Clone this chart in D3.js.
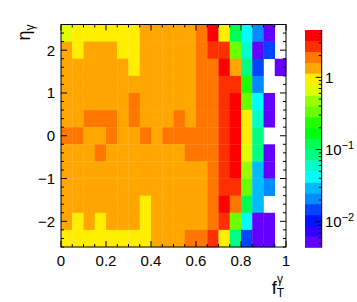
<!DOCTYPE html>
<html>
<head>
<meta charset="utf-8">
<script src="https://cdn.jsdelivr.net/npm/d3@7"></script>
<style>
  body { margin: 0; background: #fff; }
  svg { display: block; font-family: "Liberation Sans", Arial, sans-serif; }
</style>
</head>
<body>
<div id="chart"></div>
<script>
// bin edges
var ftEdges = [0, 0.05, 0.1, 0.15, 0.2, 0.25, 0.3, 0.35, 0.4, 0.45, 0.5, 0.55, 0.6, 0.65, 0.7, 0.75, 0.8, 0.85, 0.9, 0.95, 1];
var etaEdges = [2.6, 2.2, 1.8, 1.4, 1.0, 0.6, 0.2, -0.2, -0.6, -1.0, -1.4, -1.8, -2.2, -2.6]; // top -> bottom

// bin contents, one row per eta bin (top row first), null = empty bin
var counts = [
  [0.67, 0.95, 0.95, 0.95, 0.95, 0.95, 0.95, 1.34, 1.34, 1.34, 1.34, 1.34, 1.9, 3.8, 0.95, 0.12, 0.042, 0.021, 0.0052, null],
  [1.34, 0.95, 1.34, 1.34, 1.34, 0.95, 0.95, 1.34, 1.34, 1.34, 1.34, 1.34, 1.9, 2.7, 2.7, 0.34, 0.059, 0.0052, 0.0148, null],
  [1.34, 1.34, 1.34, 1.34, 1.34, 1.34, 0.95, 1.34, 1.34, 1.34, 1.34, 1.34, 1.9, 1.9, 3.8, 1.34, 0.084, 0.0148, null, 0.0052],
  [1.34, 1.34, 1.34, 1.34, 1.34, 1.34, 1.34, 1.34, 1.34, 1.34, 1.34, 1.34, 1.9, 1.9, 2.7, 2.7, 0.24, 0.021, null, null],
  [1.34, 1.34, 1.34, 1.34, 1.34, 1.34, 1.9, 1.34, 1.34, 1.34, 1.34, 1.34, 1.9, 1.9, 2.7, 3.8, 0.34, 0.042, 0.0052, null],
  [1.34, 1.34, 1.9, 1.9, 1.9, 1.34, 1.9, 1.34, 1.34, 1.34, 1.9, 1.34, 1.9, 1.9, 2.7, 3.8, 0.95, 0.059, 0.0052, null],
  [1.9, 1.9, 1.34, 1.34, 1.9, 1.34, 1.34, 1.9, 1.34, 1.9, 1.9, 1.9, 1.9, 1.9, 2.7, 3.8, 0.95, 0.084, null, null],
  [1.34, 1.34, 1.34, 1.9, 1.34, 1.34, 1.34, 1.34, 1.34, 1.34, 1.34, 1.9, 1.9, 1.9, 2.7, 3.8, 0.67, 0.084, 0.0052, null],
  [1.34, 1.34, 1.34, 1.34, 1.34, 1.34, 1.34, 1.34, 1.34, 1.34, 1.34, 1.34, 1.34, 1.9, 2.7, 3.8, 0.47, 0.030, 0.0052, null],
  [1.34, 1.34, 1.34, 1.34, 1.34, 1.34, 1.34, 1.34, 1.34, 1.34, 1.34, 1.34, 1.34, 1.9, 2.7, 2.7, 0.34, 0.030, 0.021, null],
  [1.34, 1.34, 1.34, 1.34, 1.34, 1.34, 1.34, 0.95, 1.34, 1.34, 1.34, 1.34, 1.34, 1.9, 3.8, 1.9, 0.12, 0.030, null, null],
  [1.34, 0.95, 1.34, 0.95, 1.34, 1.34, 1.34, 0.95, 1.34, 1.34, 1.34, 1.34, 1.34, 1.9, 2.7, 0.34, 0.042, 0.0052, 0.0052, null],
  [0.95, 0.95, 0.95, 0.95, 0.95, 0.95, 0.95, 0.95, 1.34, 1.34, 1.34, 1.9, 1.9, 2.7, 0.95, 0.084, 0.0148, 0.0052, 0.0052, null]
];

var xTicks = [0, 0.2, 0.4, 0.6, 0.8, 1];
var yTicks = [-2, -1, 0, 1, 2];
var zRange = [0.0044, 4.52];
var zDecades = [0.01, 0.1, 1];

var W = 357, H = 302;
var fr = { l: 61, r: 286, t: 24.5, b: 247 };
var pal = { l: 305, r: 321.7, t: 30, b: 247.5 };
var nLevels = 20;

// ROOT "pretty" palette: 50 hues violet -> red, 20 contour levels
var palette = d3.range(nLevels).map(function (k) {
    var c = Math.floor((k + 0.99) * 50 / nLevels);
    var hue = 280 - (c + 1) * (280 / 50);
    return d3.hsl(hue, 1, 0.5).formatHex();
});

var svg = d3.select("#chart").append("svg")
    .attr("width", W)
    .attr("height", H);

var x = d3.scaleLinear().domain([0, 1]).range([fr.l, fr.r]);
var y = d3.scaleLinear().domain([-2.6, 2.6]).range([fr.b, fr.t]);
var zPos = d3.scaleLog().domain(zRange).range([0, 1]);

function zColor(v) {
    var k = Math.floor(zPos(v) * nLevels);
    k = Math.max(0, Math.min(nLevels - 1, k));
    return palette[k];
}

// cells
var cells = [];
counts.forEach(function (row, j) {
    row.forEach(function (v, i) {
        if (v !== null) cells.push({ i: i, j: j, v: v });
    });
});

svg.append("g").selectAll("rect")
    .data(cells)
    .enter().append("rect")
    .attr("x", function (d) { return x(ftEdges[d.i]); })
    .attr("y", function (d) { return y(etaEdges[d.j]); })
    .attr("width", function (d) { return x(ftEdges[d.i + 1]) - x(ftEdges[d.i]) + 0.3; })
    .attr("height", function (d) { return y(etaEdges[d.j + 1]) - y(etaEdges[d.j]) + 0.3; })
    .attr("fill", function (d) { return zColor(d.v); });

// frame
svg.append("rect")
    .attr("x", fr.l).attr("y", fr.t)
    .attr("width", fr.r - fr.l).attr("height", fr.b - fr.t)
    .attr("fill", "none").attr("stroke", "#000").attr("stroke-width", 1);

// ticks
var ax = svg.append("g").attr("stroke", "#000").attr("stroke-width", 1);
var xMinor = ftEdges;
var yMinor = d3.range(-2.6, 2.61, 0.2);
function tick(x1, y1, x2, y2) {
    ax.append("line").attr("x1", x1).attr("y1", y1).attr("x2", x2).attr("y2", y2);
}
xMinor.forEach(function (v) {
    var len = xTicks.some(function (t) { return Math.abs(t - v) < 1e-6; }) ? 6 : 3;
    tick(x(v), fr.b, x(v), fr.b - len);
    tick(x(v), fr.t, x(v), fr.t + len);
});
yMinor.forEach(function (v) {
    var len = yTicks.some(function (t) { return Math.abs(t - v) < 1e-6; }) ? 6 : 3;
    tick(fr.l, y(v), fr.l + len, y(v));
    tick(fr.r, y(v), fr.r - len, y(v));
});

// tick labels
var fmt = d3.format("");
svg.append("g").selectAll("text")
    .data(xTicks).enter().append("text")
    .attr("x", function (d) { return x(d); })
    .attr("y", 266)
    .attr("text-anchor", "middle")
    .attr("font-size", 15)
    .text(function (d) { return fmt(d); });

svg.append("g").selectAll("text")
    .data(yTicks).enter().append("text")
    .attr("x", 55)
    .attr("y", function (d) { return y(d) + 5.5; })
    .attr("text-anchor", "end")
    .attr("font-size", 15)
    .text(function (d) { return fmt(d); });

// axis titles
var yt = svg.append("text")
    .attr("transform", "translate(30," + fr.t + ") rotate(-90)")
    .attr("text-anchor", "end")
    .attr("font-size", 18);
yt.append("tspan").text("η");
yt.append("tspan").attr("font-size", 12).attr("dy", 4).text("γ");

var xt = svg.append("text")
    .attr("x", 284)
    .attr("y", 294)
    .attr("text-anchor", "end")
    .attr("font-size", 18);
xt.append("tspan").text("f");
xt.append("tspan").attr("font-size", 12).attr("dy", 3).text("T");
xt.append("tspan").attr("font-size", 12).attr("dx", -7).attr("dy", -14).text("γ");

// colour palette
var zy = d3.scaleLog().domain(zRange).range([pal.b, pal.t]);
var lmin = Math.log10(zRange[0]), lmax = Math.log10(zRange[1]);
var levels = d3.range(nLevels + 1).map(function (k) {
    return Math.pow(10, lmin + k * (lmax - lmin) / nLevels);
});
svg.append("g").selectAll("rect")
    .data(d3.range(nLevels)).enter().append("rect")
    .attr("x", pal.l)
    .attr("width", pal.r - pal.l)
    .attr("y", function (k) { return zy(levels[k + 1]); })
    .attr("height", function (k) { return zy(levels[k]) - zy(levels[k + 1]) + 0.3; })
    .attr("fill", function (k) { return palette[k]; });

var zax = svg.append("g").attr("stroke", "#000").attr("stroke-width", 1);
zax.append("line").attr("x1", pal.r).attr("x2", pal.r).attr("y1", pal.t).attr("y2", pal.b);
zy.ticks().forEach(function (v) {
    var major = zDecades.some(function (t) { return Math.abs(t - v) / t < 1e-6; });
    var len = major ? 6 : 3;
    zax.append("line")
        .attr("x1", pal.r).attr("x2", pal.r - len)
        .attr("y1", zy(v)).attr("y2", zy(v));
});

var zl = svg.append("g").selectAll("text")
    .data(zDecades).enter().append("text")
    .attr("x", 325)
    .attr("y", function (d) { return zy(d) + 5.5; })
    .attr("font-size", 15);
zl.each(function (d) {
    var t = d3.select(this);
    var e = Math.round(Math.log10(d));
    if (e === 0) {
        t.text("1");
    } else {
        t.append("tspan").text("10");
        t.append("tspan").attr("font-size", 11).attr("dy", -6).text("\u2212" + Math.abs(e));
    }
});
</script>
</body>
</html>
